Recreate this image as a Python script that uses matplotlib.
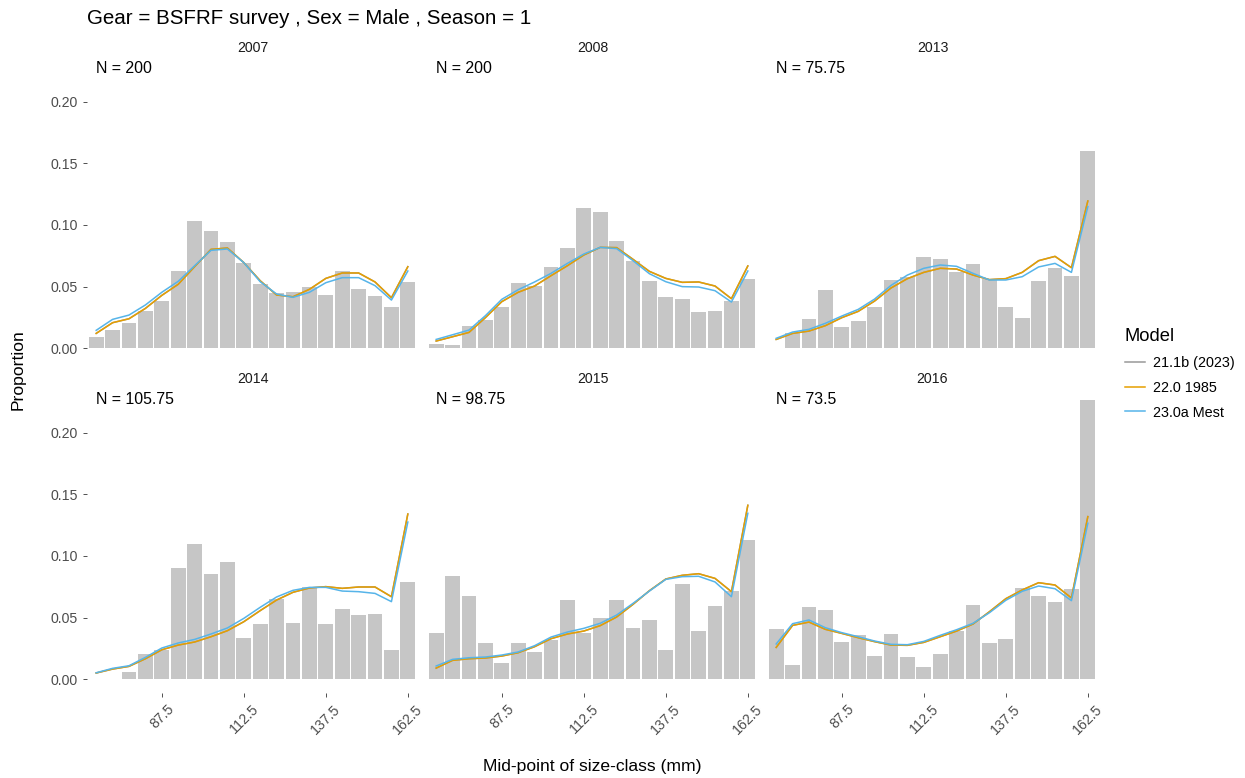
import numpy as np
import matplotlib
matplotlib.use("Agg")
import matplotlib.pyplot as plt
from matplotlib.lines import Line2D

plt.rcParams["font.family"] = ["Liberation Sans", "DejaVu Sans"]

# size-class mid-points (mm)
sizes = [67.5, 72.5, 77.5, 82.5, 87.5, 92.5, 97.5, 102.5, 107.5, 112.5,
         117.5, 122.5, 127.5, 132.5, 137.5, 142.5, 147.5, 152.5, 157.5, 162.5]

years = ["2007", "2008", "2013", "2014", "2015", "2016"]
n_labels = ["N = 200", "N = 200", "N = 75.75", "N = 105.75", "N = 98.75", "N = 73.5"]

models = ["21.1b (2023)", "22.0 1985", "23.0a Mest"]
model_colors = ["#999999", "#E69F00", "#56B4E9"]

# observed proportions
obs = {
    "2007": [0.0089, 0.0146, 0.0201, 0.0301, 0.0385, 0.0626, 0.1033, 0.0951, 0.0859, 0.0688,
             0.0518, 0.0447, 0.0458, 0.0496, 0.0431, 0.0623, 0.0480, 0.0423, 0.0333, 0.0539],
    "2008": [0.0033, 0.0022, 0.0179, 0.0228, 0.0336, 0.0531, 0.0507, 0.0659, 0.0816, 0.1136,
             0.1103, 0.0867, 0.0707, 0.0542, 0.0415, 0.0401, 0.0295, 0.0301, 0.0385, 0.0561],
    "2013": [0.0, 0.0119, 0.0236, 0.0472, 0.0168, 0.0220, 0.0333, 0.0553, 0.0575, 0.0740,
             0.0724, 0.0621, 0.0680, 0.0558, 0.0333, 0.0244, 0.0547, 0.0653, 0.0583, 0.1602],
    "2014": [0.0, 0.0, 0.0060, 0.0203, 0.0238, 0.0905, 0.1100, 0.0854, 0.0949, 0.0333,
             0.0447, 0.0648, 0.0455, 0.0745, 0.0447, 0.0569, 0.0520, 0.0526, 0.0233, 0.0789],
    "2015": [0.0377, 0.0837, 0.0672, 0.0293, 0.0127, 0.0293, 0.0217, 0.0317, 0.0642, 0.0371,
             0.0496, 0.0645, 0.0415, 0.0477, 0.0238, 0.0775, 0.0388, 0.0591, 0.0715, 0.1133],
    "2016": [0.0407, 0.0114, 0.0585, 0.0564, 0.0304, 0.0358, 0.0187, 0.0369, 0.0182, 0.0100,
             0.0201, 0.0393, 0.0599, 0.0293, 0.0325, 0.0743, 0.0675, 0.0629, 0.0732, 0.2268],
}

# predicted, model 22.0 1985 (21.1b (2023) lies under it)
pred_22 = {
    "2007": [0.0119, 0.0206, 0.0238, 0.0322, 0.0428, 0.0518, 0.0661, 0.0802, 0.0813, 0.0694,
             0.0547, 0.0431, 0.0417, 0.0477, 0.0566, 0.0610, 0.0610, 0.0537, 0.0409, 0.0661],
    "2008": [0.0057, 0.0092, 0.0127, 0.0247, 0.0377, 0.0453, 0.0504, 0.0588, 0.0669, 0.0756,
             0.0818, 0.0816, 0.0721, 0.0623, 0.0566, 0.0534, 0.0537, 0.0504, 0.0401, 0.0667],
    "2013": [0.0070, 0.0119, 0.0138, 0.0182, 0.0247, 0.0298, 0.0382, 0.0488, 0.0564, 0.0615,
             0.0648, 0.0642, 0.0593, 0.0556, 0.0564, 0.0615, 0.0710, 0.0745, 0.0653, 0.1195],
    "2014": [0.0049, 0.0081, 0.0103, 0.0165, 0.0238, 0.0276, 0.0301, 0.0344, 0.0393, 0.0466,
             0.0556, 0.0642, 0.0705, 0.0740, 0.0751, 0.0737, 0.0748, 0.0748, 0.0669, 0.1341],
    "2015": [0.0089, 0.0152, 0.0165, 0.0171, 0.0187, 0.0214, 0.0263, 0.0328, 0.0366, 0.0390,
             0.0434, 0.0504, 0.0607, 0.0718, 0.0813, 0.0843, 0.0856, 0.0818, 0.0710, 0.1412],
    "2016": [0.0257, 0.0436, 0.0463, 0.0404, 0.0371, 0.0336, 0.0304, 0.0276, 0.0274, 0.0298,
             0.0344, 0.0390, 0.0447, 0.0547, 0.0653, 0.0724, 0.0783, 0.0764, 0.0659, 0.1320],
}
pred_21 = pred_22

# predicted, model 23.0a Mest
pred_23 = {
    "2007": [0.0144, 0.0233, 0.0268, 0.0350, 0.0453, 0.0542, 0.0669, 0.0794, 0.0805, 0.0694,
             0.0539, 0.0439, 0.0412, 0.0453, 0.0531, 0.0572, 0.0572, 0.0507, 0.0390, 0.0626],
    "2008": [0.0070, 0.0108, 0.0146, 0.0263, 0.0396, 0.0474, 0.0537, 0.0607, 0.0688, 0.0764,
             0.0818, 0.0808, 0.0710, 0.0604, 0.0539, 0.0499, 0.0496, 0.0466, 0.0374, 0.0626],
    "2013": [0.0079, 0.0130, 0.0152, 0.0201, 0.0260, 0.0314, 0.0398, 0.0509, 0.0593, 0.0648,
             0.0675, 0.0664, 0.0607, 0.0553, 0.0553, 0.0580, 0.0659, 0.0688, 0.0615, 0.1149],
    "2014": [0.0051, 0.0087, 0.0108, 0.0176, 0.0252, 0.0293, 0.0322, 0.0366, 0.0415, 0.0493,
             0.0583, 0.0667, 0.0721, 0.0745, 0.0745, 0.0715, 0.0710, 0.0696, 0.0629, 0.1276],
    "2015": [0.0106, 0.0160, 0.0173, 0.0179, 0.0195, 0.0220, 0.0271, 0.0341, 0.0382, 0.0412,
             0.0453, 0.0520, 0.0615, 0.0715, 0.0810, 0.0832, 0.0835, 0.0789, 0.0669, 0.1347],
    "2016": [0.0285, 0.0450, 0.0480, 0.0417, 0.0377, 0.0344, 0.0309, 0.0282, 0.0279, 0.0306,
             0.0355, 0.0401, 0.0453, 0.0539, 0.0640, 0.0713, 0.0756, 0.0734, 0.0637, 0.1266],
}
preds = [pred_21, pred_22, pred_23]

x_ticks = [87.5, 112.5, 137.5, 162.5]
y_ticks = [0.0, 0.05, 0.10, 0.15, 0.20]

W, H = 1245, 778
fig = plt.figure(figsize=(W / 100, H / 100), dpi=100)

col_left = [87, 427, 767]
row_top = [55, 386]
pw, ph = 331, 307
ymax = max(max(v) for v in obs.values())

for i, yr in enumerate(years):
    r, c = divmod(i, 3)
    ax = fig.add_axes([col_left[c] / W, 1 - (row_top[r] + ph) / H, pw / W, ph / H])
    ax.bar(sizes, obs[yr], width=4.5, color="#C6C6C6", linewidth=0, zorder=1)
    for p, col in zip(preds, model_colors):
        ax.plot(sizes, p[yr], color=col, lw=1.1, zorder=2)
    ax.text(sizes[0], ymax, n_labels[i], ha="left", va="center", fontsize=11.4, color="black")
    ax.set_title(yr, fontsize=10.2, color="#1A1A1A", pad=2)
    ax.set_xlim(64.7, 165.6)
    ax.set_ylim(-0.05 * ymax, 1.05 * ymax)
    for s in ax.spines.values():
        s.set_visible(False)
    ax.tick_params(length=3, width=0.6, color="#333333", labelsize=10.2, labelcolor="#4D4D4D")
    ax.set_xticks(x_ticks)
    ax.set_yticks(y_ticks)
    if r == 1:
        ax.set_xticklabels([f"{t:g}" for t in x_ticks], rotation=45, ha="center")
    else:
        ax.tick_params(axis="x", length=0, labelbottom=False)
    if c == 0:
        ax.set_yticklabels([f"{t:.2f}" for t in y_ticks])
    else:
        ax.tick_params(axis="y", length=0, labelleft=False)

fig.text(87 / W, 1 - 19 / H, "Gear = BSFRF survey , Sex = Male , Season = 1",
         ha="left", va="center", fontsize=14.8)
fig.text(18 / W, 1 - 370 / H, "Proportion", rotation=90, ha="center", va="center", fontsize=12.6)
fig.text(592 / W, 1 - 766 / H, "Mid-point of size-class (mm)", ha="center", va="center", fontsize=12.6)

handles = [Line2D([0], [0], color=col, lw=1.1) for col in model_colors]
leg = fig.legend(handles, models, title="Model", loc="upper left",
                 bbox_to_anchor=(1112 / W, 1 - 315 / H), frameon=False,
                 fontsize=10.4, title_fontsize=13.2, handlelength=1.4, labelspacing=0.75,
                 handletextpad=0.55)
leg._legend_box.align = "left"

fig.savefig("out.png", dpi=100)
